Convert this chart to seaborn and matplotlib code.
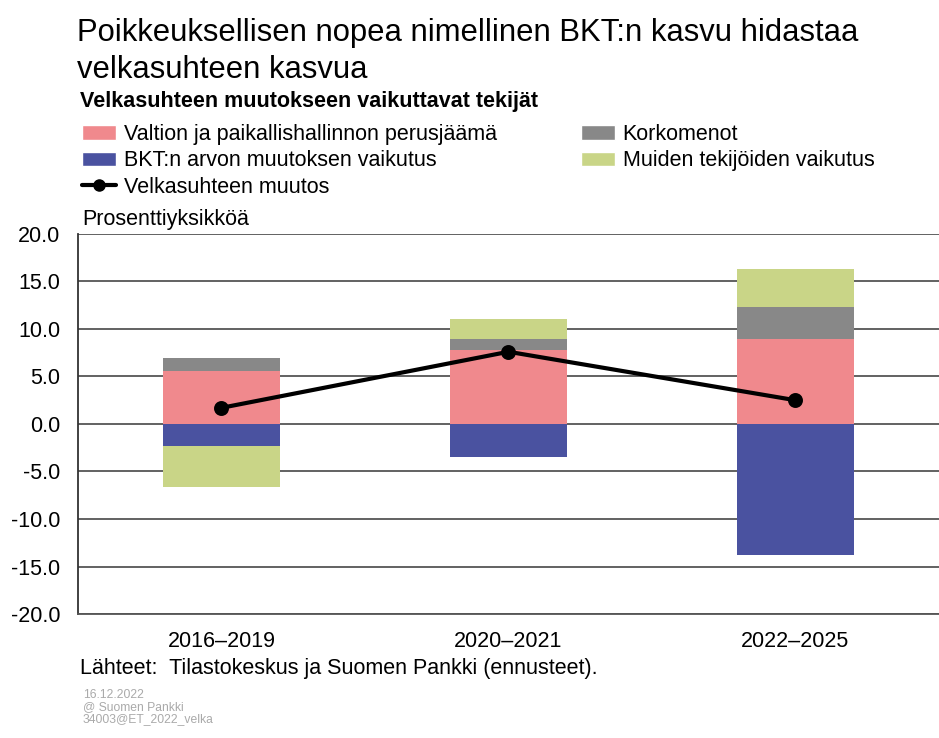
import numpy as np
import pandas as pd
import seaborn as sns
import matplotlib.pyplot as plt
from matplotlib.patches import Patch
from matplotlib.lines import Line2D

# Data (percentage points)
periods = ["2016–2019", "2020–2021", "2022–2025"]
primary_balance = [5.6, 7.8, 8.9]      # Valtion ja paikallishallinnon perusjäämä
interest = [1.3, 1.15, 3.4]            # Korkomenot
gdp_effect = [-2.3, -3.5, -13.8]       # BKT:n arvon muutoksen vaikutus
other = [-4.3, 2.05, 4.0]              # Muiden tekijöiden vaikutus
debt_change = [1.7, 7.6, 2.5]          # Velkasuhteen muutos

labels = ["Valtion ja paikallishallinnon perusjäämä", "BKT:n arvon muutoksen vaikutus",
          "Velkasuhteen muutos", "Korkomenot", "Muiden tekijöiden vaikutus"]

c_pink = "#F0898D"
c_blue = "#4A52A0"
c_gray = "#888888"
c_green = "#C9D587"

sns.set_style("white")
plt.rcParams['font.family'] = ['Liberation Sans', 'DejaVu Sans']
plt.rcParams['text.color'] = 'black'
plt.rcParams['xtick.color'] = 'black'
plt.rcParams['ytick.color'] = 'black'

FS = 15.5

df = pd.DataFrame({"period": periods, "pink": primary_balance, "gray": interest,
                   "blue": gdp_effect, "green": other, "change": debt_change})
# cumulative stacks: positives above pink, negatives below blue
df["gray_top"] = df["pink"] + df["gray"]
df["green_pos"] = df["gray_top"] + df["green"].clip(lower=0)
df["green_neg"] = df["blue"] + df["green"].clip(upper=0)

fig = plt.figure(figsize=(9.39, 7.38), dpi=100)
ax = fig.add_axes([0.083, 0.168, 0.917, 0.515])

w = 0.405
for col, color in [("green_pos", c_green), ("green_neg", c_green), ("gray_top", c_gray),
                   ("pink", c_pink), ("blue", c_blue)]:
    sns.barplot(data=df, x="period", y=col, color=color, width=w, saturation=1,
                linewidth=0, ax=ax, zorder=2)

sns.pointplot(data=df, x="period", y="change", color="black", markersize=8.5,
              linewidth=3, ax=ax, zorder=4)

ax.set_ylim(-20, 20)
ax.set_xlim(-0.5, 2.5)
ax.set_yticks(np.arange(-20, 20.1, 5))
ax.set_yticklabels([f"{v:.1f}" for v in np.arange(-20, 20.1, 5)], fontsize=FS)
ax.tick_params(axis="y", length=0, pad=12.5)
ax.tick_params(axis="x", length=0, pad=12, labelsize=FS)
ax.set_xlabel("")
ax.set_ylabel("")
ax.set_axisbelow(True)
ax.yaxis.grid(True, color="#555555", linewidth=1.3)
for s in ["top", "right"]:
    ax.spines[s].set_visible(False)
ax.spines["left"].set_color("#333333")
ax.spines["left"].set_linewidth(1.3)
ax.spines["bottom"].set_color("#555555")
ax.spines["bottom"].set_linewidth(1.3)

# Title and texts
fig.text(0.082, 0.975, "Poikkeuksellisen nopea nimellinen BKT:n kasvu hidastaa\nvelkasuhteen kasvua",
         fontsize=22.3, va="top", ha="left", linespacing=1.27)
fig.text(0.085, 0.862, "Velkasuhteen muutokseen vaikuttavat tekijät", fontsize=FS,
         fontweight="bold", va="center", ha="left")
fig.text(0.088, 0.702, "Prosenttiyksikköä", fontsize=FS, va="center", ha="left")
fig.text(0.085, 0.094, "Lähteet:  Tilastokeskus ja Suomen Pankki (ennusteet).", fontsize=FS,
         va="center", ha="left")
fig.text(0.088, 0.042, "16.12.2022\n@ Suomen Pankki\n34003@ET_2022_velka", fontsize=8.7,
         color="#aaaaaa", va="center", ha="left", linespacing=1.0)

handles = [Patch(facecolor=c_pink), Patch(facecolor=c_blue),
           Line2D([0], [0], color="black", linewidth=3, marker="o", markersize=8),
           Patch(facecolor=c_gray), Patch(facecolor=c_green)]
leg = fig.legend(handles, labels, ncol=2, loc="upper left", bbox_to_anchor=(0.087, 0.832),
                 frameon=False, fontsize=FS,
                 handlelength=1.6, handleheight=0.65, handletextpad=0.35, columnspacing=3.9,
                 labelspacing=0.25, borderpad=0.0, borderaxespad=0.0)

plt.savefig("out.png", dpi=100)
